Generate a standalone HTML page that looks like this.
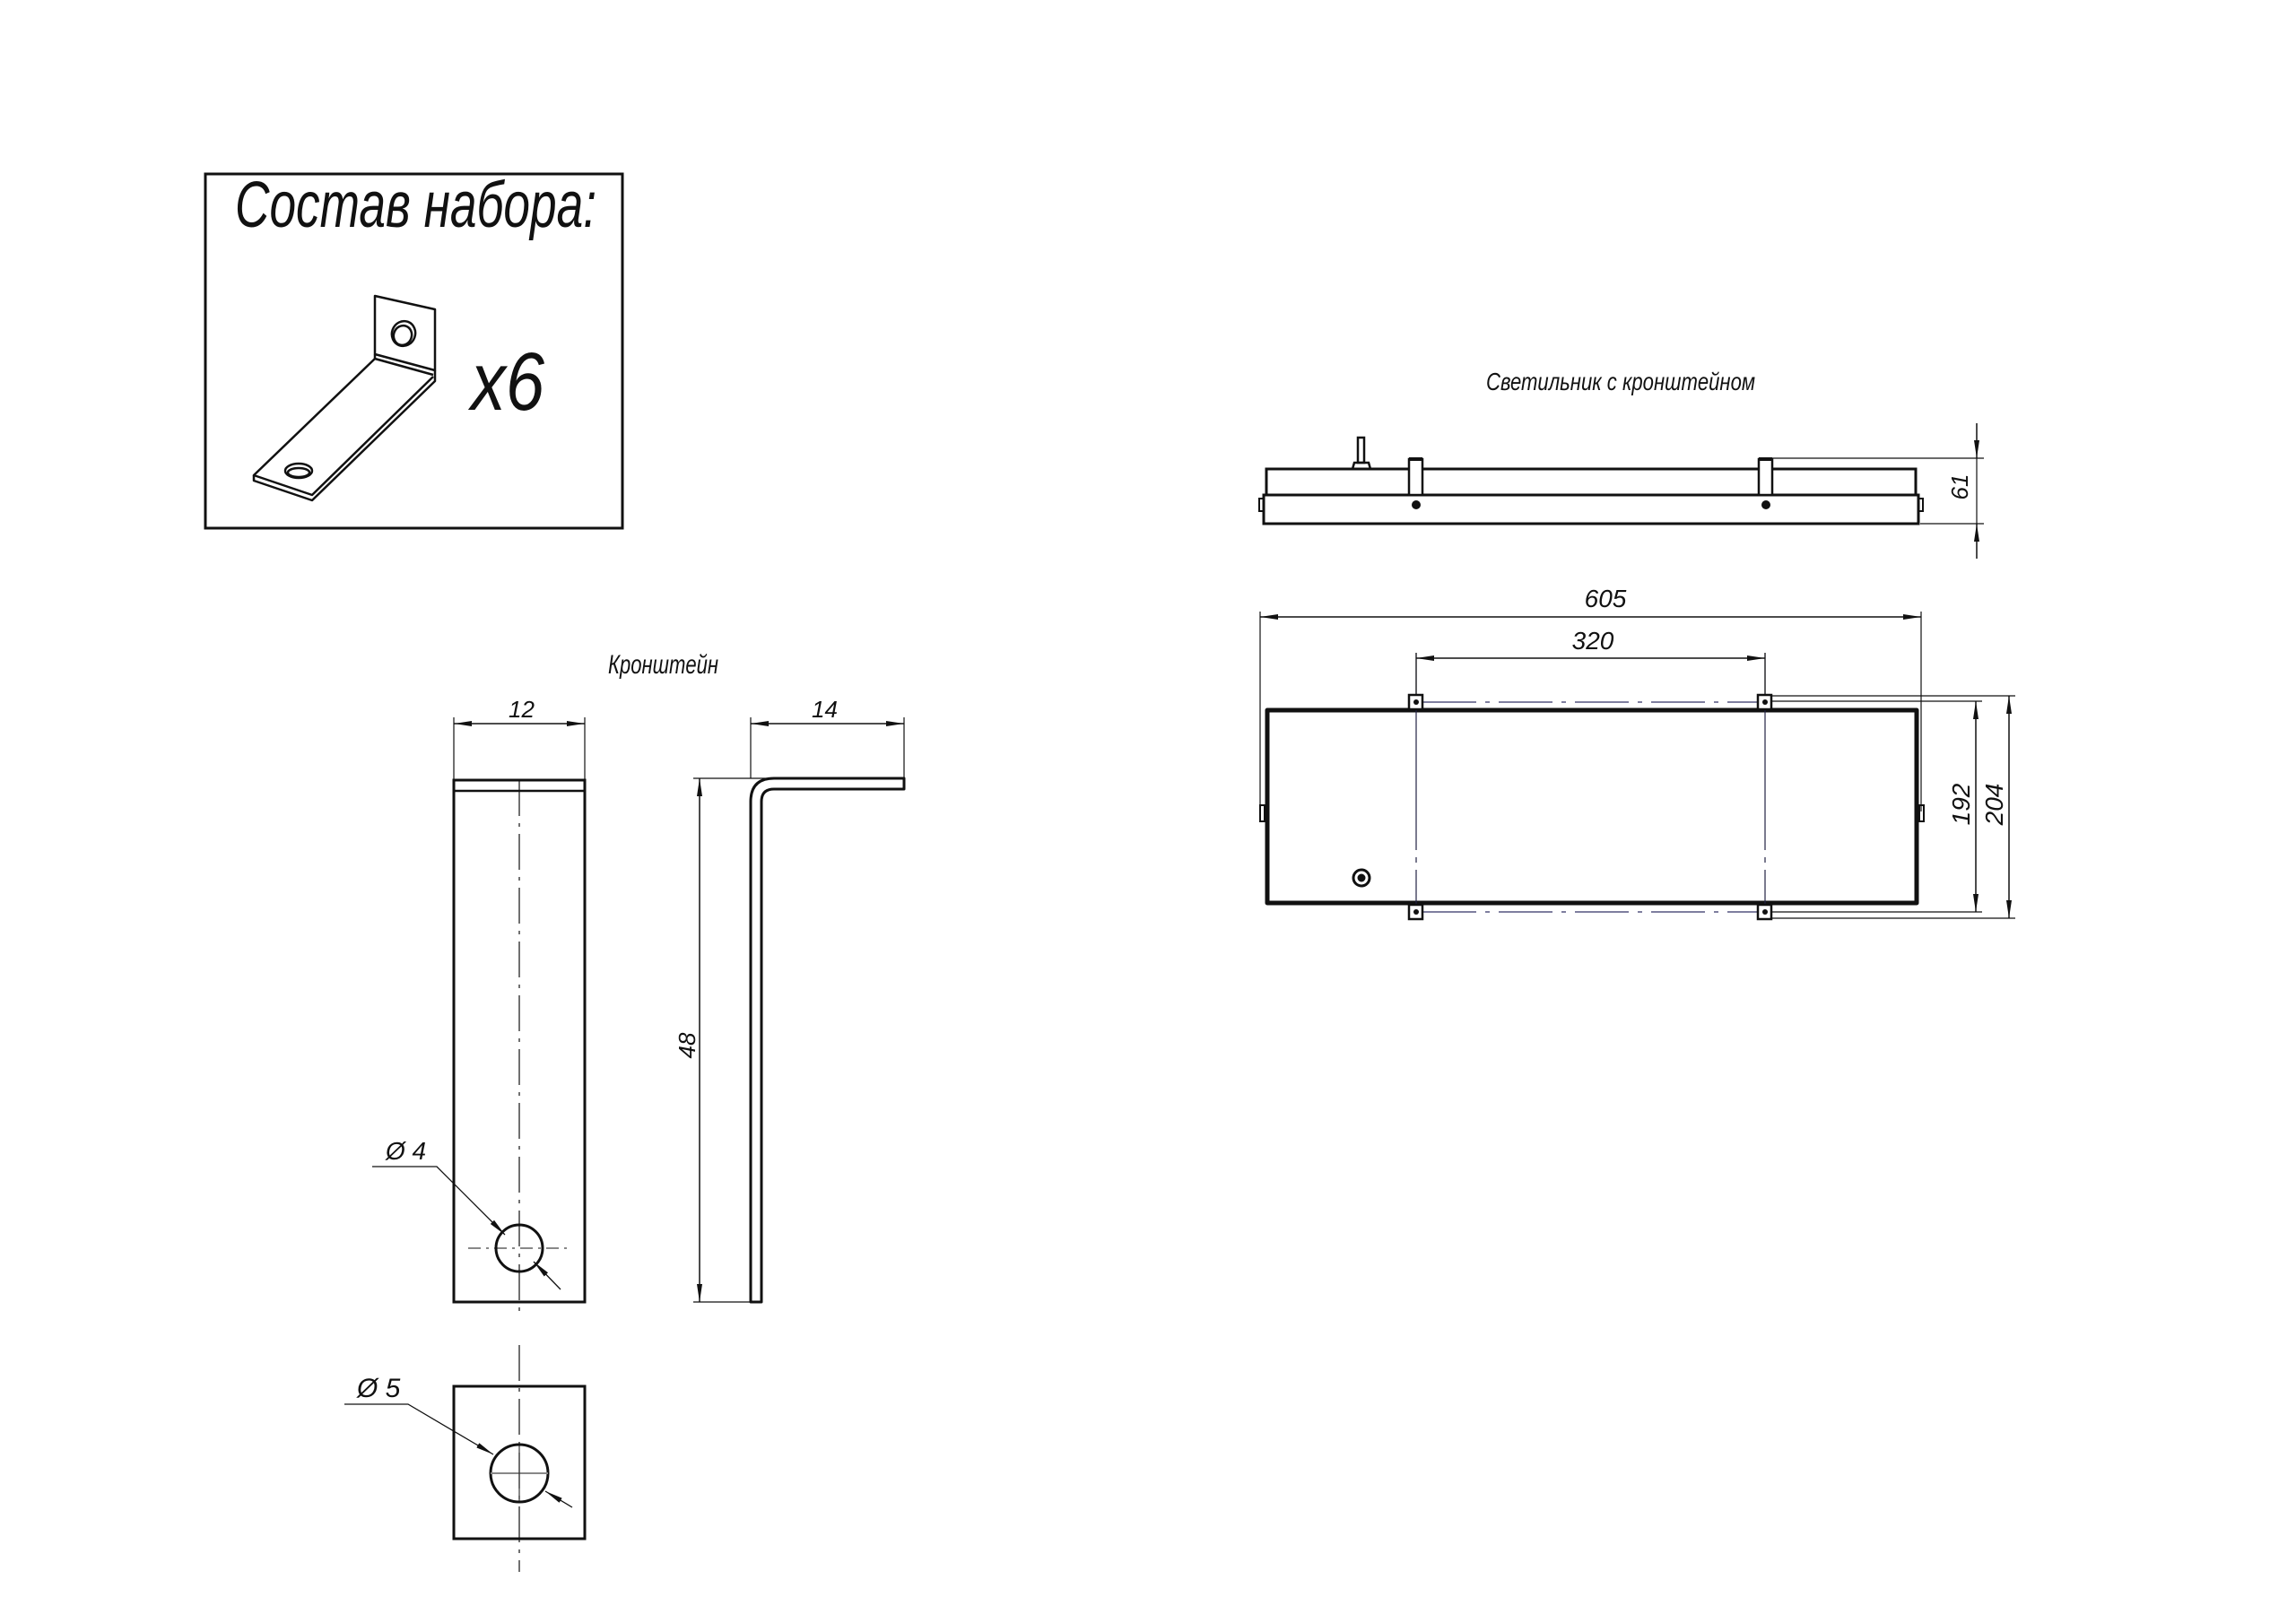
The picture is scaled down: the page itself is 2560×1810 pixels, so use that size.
<!DOCTYPE html>
<html><head><meta charset="utf-8"><style>
html,body{margin:0;padding:0;background:#fff}
svg{display:block}
text{font-family:"Liberation Sans",sans-serif;font-style:italic;fill:#111}
</style></head><body>
<svg width="2560" height="1810" viewBox="0 0 2560 1810" xmlns="http://www.w3.org/2000/svg">
<defs>
<marker id="a" viewBox="0 0 20 6" refX="20" refY="3" markerWidth="20" markerHeight="6" markerUnits="userSpaceOnUse" orient="auto-start-reverse"><path d="M0,0 L20,3 L0,6 z" fill="#111"/></marker>
</defs>
<rect x="0" y="0" width="2560" height="1810" fill="#fff"/>

<!-- Kit box -->
<rect x="229" y="194" width="465" height="395" fill="none" stroke="#111" stroke-width="3"/>
<text x="262" y="253" font-size="72" textLength="403" lengthAdjust="spacingAndGlyphs" style="font-weight:300">Состав набора:</text>
<g fill="none" stroke="#111" stroke-width="2.5" stroke-linejoin="round">
<path d="M418,330 L485,345 L485,413 L418,395 Z"/>
<path d="M418,395 L418,400 L483,418"/>
<ellipse cx="450" cy="372" rx="13" ry="14" transform="rotate(20 450 372)"/>
<ellipse cx="449" cy="374" rx="10" ry="11" transform="rotate(20 449 374)"/>
<path d="M418,400 L283,530 L348,552 L483,420"/>
<path d="M283,530 L283,536 L348,558 L485,425 L485,413"/>
<ellipse cx="333" cy="525" rx="15" ry="8"/>
<ellipse cx="333" cy="527" rx="12" ry="5"/>
</g>
<text x="525" y="457" font-size="92" textLength="82" lengthAdjust="spacingAndGlyphs" style="font-weight:300">x6</text>

<!-- Кронштейн -->
<text x="678" y="751" font-size="30" textLength="123" lengthAdjust="spacingAndGlyphs">Кронштейн</text>
<g stroke="#111" fill="none">
<rect x="506" y="870" width="146" height="582" stroke-width="3"/>
<line x1="506" y1="882" x2="652" y2="882" stroke-width="2.5"/>
<line x1="579" y1="870" x2="579" y2="1470" stroke-width="1.2" stroke-dasharray="40,8,4,8"/>
<line x1="579" y1="1500" x2="579" y2="1753" stroke-width="1.2" stroke-dasharray="40,8,4,8"/>
<circle cx="579" cy="1392" r="26" stroke-width="3"/>
<line x1="522" y1="1392" x2="638" y2="1392" stroke-width="1" stroke-dasharray="14,6,3,6"/>
<line x1="506" y1="800" x2="506" y2="870" stroke-width="1.2"/>
<line x1="652" y1="800" x2="652" y2="870" stroke-width="1.2"/>
<line x1="506" y1="807" x2="652" y2="807" stroke-width="1.5" marker-start="url(#a)" marker-end="url(#a)"/>
<polyline points="415,1301 487,1301 563,1377" stroke-width="1.3" marker-end="url(#a)"/>
<line x1="595" y1="1407" x2="625" y2="1438" stroke-width="1.3" marker-start="url(#a)"/>
<rect x="506" y="1546" width="146" height="170" stroke-width="3"/>
<circle cx="579" cy="1643" r="32" stroke-width="3"/>
<line x1="547" y1="1643" x2="611" y2="1643" stroke="#888" stroke-width="2"/>
<line x1="579" y1="1611" x2="579" y2="1675" stroke-width="1"/>
<polyline points="384,1566 455,1566 550,1622" stroke-width="1.3" marker-end="url(#a)"/>
<line x1="608" y1="1663" x2="638" y2="1681" stroke-width="1.3" marker-start="url(#a)"/>
<path d="M837,1452 L837,894 Q837,868 863,868 L1008,868 L1008,880 L863,880 Q849,880 849,894 L849,1452 Z" stroke-width="3" stroke-linejoin="round"/>
<line x1="837" y1="800" x2="837" y2="868" stroke-width="1.2"/>
<line x1="1008" y1="800" x2="1008" y2="868" stroke-width="1.2"/>
<line x1="837" y1="807" x2="1008" y2="807" stroke-width="1.5" marker-start="url(#a)" marker-end="url(#a)"/>
<line x1="773" y1="868" x2="860" y2="868" stroke-width="1.2"/>
<line x1="773" y1="1452" x2="837" y2="1452" stroke-width="1.2"/>
<line x1="780" y1="868" x2="780" y2="1452" stroke-width="1.5" marker-start="url(#a)" marker-end="url(#a)"/>
</g>
<text x="567" y="800" font-size="26">12</text>
<text x="905" y="800" font-size="26">14</text>
<text transform="translate(775,1166) rotate(-90)" font-size="26" text-anchor="middle">48</text>
<text x="430" y="1293" font-size="28">Ø 4</text>
<text x="398" y="1558" font-size="30">Ø 5</text>

<!-- Светильник -->
<text x="1657" y="435" font-size="28" textLength="300" lengthAdjust="spacingAndGlyphs">Светильник с кронштейном</text>
<g stroke="#111" fill="none">
<rect x="1412" y="523" width="724" height="29" stroke-width="3"/>
<rect x="1409" y="552" width="730" height="32" stroke-width="3"/>
<rect x="1404" y="556" width="5" height="14" stroke-width="2"/>
<rect x="2139" y="556" width="5" height="14" stroke-width="2"/>
<rect x="1571" y="512" width="15" height="40" stroke-width="2.5" fill="#fff"/>
<line x1="1571" y1="512" x2="1586" y2="512" stroke-width="4"/>
<rect x="1961" y="512" width="15" height="40" stroke-width="2.5" fill="#fff"/>
<line x1="1961" y1="512" x2="1976" y2="512" stroke-width="4"/>
<rect x="1514" y="488" width="7" height="28" stroke-width="2.5"/>
<path d="M1508,523 L1510,516 L1526,516 L1528,523" stroke-width="2.5"/>
<line x1="1976" y1="511" x2="2212" y2="511" stroke-width="1.2"/>
<line x1="2141" y1="584" x2="2212" y2="584" stroke-width="1.2"/>
<line x1="2204" y1="472" x2="2204" y2="511" stroke-width="1.5" marker-end="url(#a)"/>
<line x1="2204" y1="623" x2="2204" y2="584" stroke-width="1.5" marker-end="url(#a)"/>
<line x1="2204" y1="511" x2="2204" y2="584" stroke-width="1.2"/>
<rect x="1413" y="792" width="724" height="215" stroke-width="5" stroke-linejoin="round"/>
<rect x="1405" y="898" width="5" height="18" stroke-width="2"/>
<rect x="2140" y="898" width="5" height="18" stroke-width="2"/>
<line x1="1586" y1="783" x2="1961" y2="783" stroke="#336" stroke-width="1.2" stroke-dasharray="60,10,5,10"/>
<line x1="1586" y1="1017" x2="1961" y2="1017" stroke="#336" stroke-width="1.2" stroke-dasharray="60,10,5,10"/>
<line x1="1579" y1="728" x2="1579" y2="1025" stroke="#224" stroke-width="1.2" stroke-dasharray="220,8,6,8"/>
<line x1="1968" y1="728" x2="1968" y2="1025" stroke="#224" stroke-width="1.2" stroke-dasharray="220,8,6,8"/>
<rect x="1571" y="775" width="15" height="16" stroke-width="2.5" fill="#fff"/>
<rect x="1960" y="775" width="15" height="16" stroke-width="2.5" fill="#fff"/>
<rect x="1571" y="1009" width="15" height="16" stroke-width="2.5" fill="#fff"/>
<rect x="1960" y="1009" width="15" height="16" stroke-width="2.5" fill="#fff"/>
<circle cx="1518" cy="979" r="9" stroke-width="3"/>
<line x1="1405" y1="682" x2="1405" y2="905" stroke-width="1.2"/>
<line x1="2142" y1="682" x2="2142" y2="905" stroke-width="1.2"/>
<line x1="1405" y1="688" x2="2142" y2="688" stroke-width="1.5" marker-start="url(#a)" marker-end="url(#a)"/>
<line x1="1579" y1="728" x2="1579" y2="775" stroke-width="1.2"/>
<line x1="1968" y1="728" x2="1968" y2="775" stroke-width="1.2"/>
<line x1="1579" y1="734" x2="1968" y2="734" stroke-width="1.5" marker-start="url(#a)" marker-end="url(#a)"/>
<line x1="1975" y1="776" x2="2247" y2="776" stroke-width="1.2"/>
<line x1="1975" y1="782" x2="2210" y2="782" stroke-width="1.2"/>
<line x1="1975" y1="1017" x2="2210" y2="1017" stroke-width="1.2"/>
<line x1="1975" y1="1024" x2="2247" y2="1024" stroke-width="1.2"/>
<line x1="2203" y1="782" x2="2203" y2="1017" stroke-width="1.5" marker-start="url(#a)" marker-end="url(#a)"/>
<line x1="2240" y1="776" x2="2240" y2="1024" stroke-width="1.5" marker-start="url(#a)" marker-end="url(#a)"/>
</g>
<g fill="#111">
<circle cx="1579" cy="563" r="5"/><circle cx="1969" cy="563" r="5"/>
<circle cx="1518" cy="979" r="4.5"/>
<circle cx="1579" cy="783" r="3"/><circle cx="1968" cy="783" r="3"/>
<circle cx="1579" cy="1017" r="3"/><circle cx="1968" cy="1017" r="3"/>
</g>
<text transform="translate(2194,543) rotate(-90)" font-size="26" text-anchor="middle">61</text>
<text x="1790" y="677" font-size="28" text-anchor="middle">605</text>
<text x="1776" y="724" font-size="28" text-anchor="middle">320</text>
<text transform="translate(2196,897) rotate(-90)" font-size="28" text-anchor="middle">192</text>
<text transform="translate(2233,897) rotate(-90)" font-size="28" text-anchor="middle">204</text>
</svg>
</body></html>
